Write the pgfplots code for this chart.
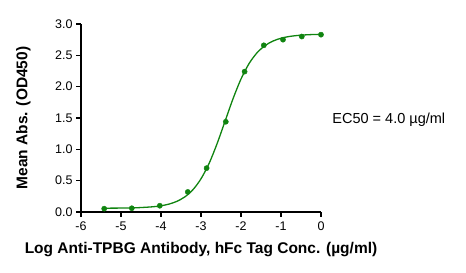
\documentclass[border=0pt]{standalone}
\usepackage{pgfplots}
\pgfplotsset{compat=1.18}
\usepackage{fontspec}
\setmainfont{Liberation Sans}
\definecolor{curvegreen}{RGB}{16,132,16}
\begin{document}
\begin{tikzpicture}[x=1pt,y=1pt]
\useasboundingbox (0,0) rectangle (466,273);
\begin{axis}[
  at={(81pt,61pt)}, anchor=south west,
  scale only axis, width=240pt, height=188pt,
  xmin=-6, xmax=0, ymin=0, ymax=3,
  clip=false,
  axis x line*=bottom, axis y line*=left,
  axis line style={black, line width=1.1pt, -},
  xtick={-6,-5,-4,-3,-2,-1,0},
  ytick={0,0.5,1,1.5,2,2.5,3},
  yticklabel style={/pgf/number format/.cd,fixed,fixed zerofill,precision=1},
  /pgf/number format/assume math mode=true,
  tick align=outside, major tick length=5pt,
  tick style={black, line width=1.1pt},
  ticklabel style={font=\fontsize{12.5}{14}\selectfont},
  xticklabel style={yshift=-1pt},
  xlabel={\textbf{Log Anti-TPBG Antibody, hFc Tag Conc. (µg/ml)}},
  ylabel={\textbf{Mean Abs. (OD450)}},
  label style={font=\fontsize{15.5}{17}\selectfont},
  xlabel style={at={(rel axis cs:0.5,-0.197)}, anchor=center},
  ylabel style={at={(rel axis cs:-0.24,0.5)}, anchor=center},
]
\addplot[curvegreen, line width=1.3pt, smooth, no marks] coordinates {
(-5.42,0.0609) (-5.0,0.0628) (-4.6,0.0681) (-4.2,0.0834) (-4.0,0.0994)
(-3.8,0.126) (-3.6,0.171) (-3.4,0.243) (-3.2,0.357) (-3.0,0.530)
(-2.8,0.772) (-2.6,1.087) (-2.4,1.446) (-2.2,1.806) (-2.0,2.122)
(-1.8,2.367) (-1.6,2.540) (-1.4,2.655) (-1.2,2.728) (-1.0,2.773)
(-0.8,2.800) (-0.6,2.816) (-0.4,2.826) (-0.2,2.832) (0,2.835)
};
\addplot[only marks, mark=*, mark size=2.6pt, color=curvegreen] coordinates {
(-5.42,0.053) (-4.73,0.06) (-4.03,0.10) (-3.33,0.32) (-2.86,0.70)
(-2.38,1.44) (-1.91,2.24) (-1.43,2.66) (-0.95,2.75) (-0.48,2.80) (0,2.83)
};
\node[font=\fontsize{14.5}{16}\selectfont, anchor=west] at (rel axis cs:1.033,0.49) {EC50 = 4.0 µg/ml};
\end{axis}
\end{tikzpicture}
\end{document}
